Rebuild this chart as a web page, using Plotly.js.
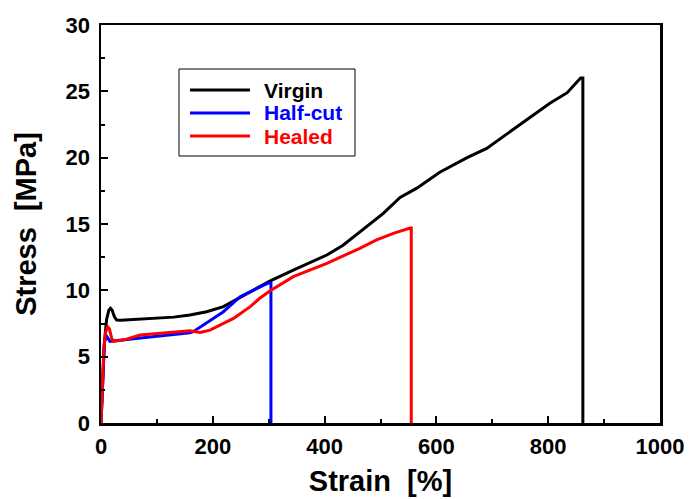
<!DOCTYPE html>
<html>
<head>
<meta charset="utf-8">
<script src="https://cdn.plot.ly/plotly-3.0.1.min.js"></script>
<style>html,body{margin:0;padding:0;background:#fff;}#chart{width:691px;height:499px;}</style>
</head>
<body>
<div id="chart"></div>
<script>
// Virgin
var virginStrain = [0, 3, 6, 10, 14, 17, 20, 24, 28, 35, 60, 100, 130, 159, 189, 219, 250, 280, 302, 344, 374, 404, 433, 463, 476, 505, 535, 565, 606, 655, 690, 744, 803, 834, 851, 858, 862, 862];
var virginStress = [0, 3, 6, 7.8, 8.5, 8.65, 8.5, 8.0, 7.76, 7.75, 7.82, 7.9, 7.98, 8.14, 8.39, 8.77, 9.5, 10.15, 10.7, 11.53, 12.08, 12.66, 13.4, 14.4, 14.85, 15.8, 17.0, 17.7, 18.9, 20.0, 20.7, 22.3, 24.1, 24.9, 25.7, 26.0, 26.0, 0];
// Half-cut
var halfStrain = [0, 2, 4, 6, 9, 12, 16, 25, 60, 100, 159, 165, 190, 219, 249, 279, 299, 304, 304];
var halfStress = [0, 2, 4.5, 6.0, 6.6, 6.4, 6.15, 6.2, 6.35, 6.5, 6.8, 6.88, 7.6, 8.39, 9.52, 10.15, 10.55, 10.55, 0];
// Healed
var healStrain = [0, 2, 5, 8, 12, 15, 19, 22, 40, 70, 100, 159, 177, 195, 237, 267, 284, 302, 344, 374, 404, 463, 493, 523, 547, 553, 555, 555];
var healStress = [0, 2.5, 5.5, 6.8, 7.25, 7.1, 6.4, 6.15, 6.25, 6.63, 6.75, 6.96, 6.83, 7.0, 7.88, 8.77, 9.4, 9.95, 11.03, 11.53, 12.03, 13.17, 13.8, 14.3, 14.65, 14.7, 14.7, 0];

var seriesNames = ['Virgin', 'Half-cut', 'Healed'];
var seriesColors = ['#000000', '#0000ff', '#ff0000'];

var xs = [virginStrain, halfStrain, healStrain];
var ys = [virginStress, halfStress, healStress];
var traces = [];
for (var i = 0; i < 3; i++) {
  traces.push({
    x: xs[i], y: ys[i], type: 'scatter', mode: 'lines',
    name: seriesNames[i], showlegend: false,
    line: {color: seriesColors[i], width: 3}
  });
}

// plot area in pixels (for legend placement)
var PL = 101, PR = 660, PT = 25, PB = 423;
function px(xp) { return (xp - PL) / (PR - PL); }
function py(yp) { return (PB - yp) / (PB - PT); }

var family = '"Liberation Sans", Arial, sans-serif';
var shapes = [{
  type: 'rect', xref: 'paper', yref: 'paper',
  x0: px(179), x1: px(355), y0: py(156), y1: py(69),
  line: {color: '#000', width: 1}, fillcolor: 'rgba(0,0,0,0)'
}];
var annotations = [];
var rowY = [90, 113, 136];
for (var j = 0; j < 3; j++) {
  shapes.push({
    type: 'line', xref: 'paper', yref: 'paper',
    x0: px(190), x1: px(250), y0: py(rowY[j]), y1: py(rowY[j]),
    line: {color: seriesColors[j], width: 3}
  });
  annotations.push({
    xref: 'paper', yref: 'paper', x: px(262), y: py(rowY[j]),
    xanchor: 'left', yanchor: 'middle', showarrow: false,
    text: seriesNames[j],
    font: {family: family, size: 21, weight: 'bold', color: seriesColors[j]}
  });
}

var layout = {
  width: 691, height: 499,
  margin: {l: PL, r: 691 - PR, t: PT, b: 499 - PB},
  paper_bgcolor: '#fff', plot_bgcolor: '#fff',
  font: {family: family, color: '#000'},
  showlegend: false,
  shapes: shapes,
  annotations: annotations,
  xaxis: {
    range: [0, 1000], dtick: 200, tick0: 0,
    ticks: 'inside', ticklen: 7, tickwidth: 2, tickcolor: '#000',
    showline: true, linewidth: 2.5, linecolor: '#000', mirror: true,
    showgrid: false, zeroline: false,
    tickfont: {family: family, size: 22, weight: 'bold', color: '#000'},
    ticklabelstandoff: 2,
    minor: {dtick: 100, ticks: 'inside', ticklen: 4, tickwidth: 2, tickcolor: '#000', showgrid: false},
    title: {text: 'Strain\u00a0\u00a0[%]', font: {family: family, size: 29, weight: 'bold', color: '#000'}, standoff: 13}
  },
  yaxis: {
    range: [0, 30], dtick: 5, tick0: 0,
    ticks: 'inside', ticklen: 7, tickwidth: 2, tickcolor: '#000',
    showline: true, linewidth: 2.5, linecolor: '#000', mirror: true,
    showgrid: false, zeroline: false,
    tickfont: {family: family, size: 22, weight: 'bold', color: '#000'},
    ticklabelstandoff: 4,
    minor: {dtick: 2.5, ticks: 'inside', ticklen: 4, tickwidth: 2, tickcolor: '#000', showgrid: false},
    title: {text: 'Stress\u00a0\u00a0[MPa]', font: {family: family, size: 29, weight: 'bold', color: '#000'}, standoff: 21}
  }
};
Plotly.newPlot('chart', traces, layout, {displayModeBar: false, staticPlot: true});
</script>
</body>
</html>
